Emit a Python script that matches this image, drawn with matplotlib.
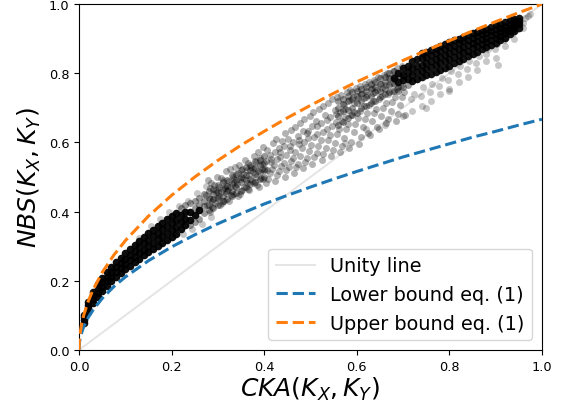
import matplotlib
matplotlib.use('Agg')
import matplotlib.pyplot as plt

# bounds and unity line
curve_x = [0, 0.001, 0.002, 0.005, 0.01, 0.02, 0.03, 0.05, 0.075, 0.1, 0.15, 0.2, 0.25, 0.3, 0.35, 0.4, 0.45,
           0.5, 0.55, 0.6, 0.65, 0.7, 0.75, 0.8, 0.85, 0.9, 0.95, 1.0]
upper_y = [0, 0.032, 0.045, 0.07, 0.1, 0.141, 0.173, 0.224, 0.274, 0.316, 0.387, 0.447, 0.5, 0.548, 0.592, 0.632,
           0.671, 0.707, 0.742, 0.775, 0.806, 0.837, 0.866, 0.894, 0.922, 0.949, 0.975, 1.0]
lower_y = [0, 0.021, 0.03, 0.047, 0.067, 0.094, 0.115, 0.149, 0.183, 0.211, 0.258, 0.298, 0.333, 0.365, 0.394,
           0.422, 0.447, 0.471, 0.494, 0.516, 0.537, 0.558, 0.577, 0.596, 0.615, 0.632, 0.65, 0.667]
unity_x = [0, 1]
unity_y = [0, 1]

# black ribbon near the origin, thinning out at its right end
low_x = [0.01, 0.01, 0.01, 0.01, 0.02, 0.02, 0.02, 0.02, 0.03, 0.03, 0.03, 0.03, 0.04, 0.04, 0.04, 0.04,
         0.05, 0.05, 0.05, 0.05, 0.06, 0.06, 0.06, 0.06, 0.07, 0.07, 0.07, 0.07, 0.08, 0.08, 0.08, 0.08,
         0.09, 0.09, 0.09, 0.09, 0.1, 0.1, 0.1, 0.1, 0.11, 0.11, 0.11, 0.11, 0.12, 0.12, 0.12, 0.12,
         0.13, 0.13, 0.13, 0.13, 0.14, 0.14, 0.14, 0.14, 0.15, 0.15, 0.15, 0.15, 0.16, 0.16, 0.16, 0.16,
         0.17, 0.17, 0.17, 0.17, 0.18, 0.18, 0.18, 0.18, 0.19, 0.19, 0.19, 0.19, 0.2, 0.2, 0.2, 0.2,
         0.21, 0.21, 0.21, 0.21, 0.22, 0.22, 0.22, 0.23, 0.23, 0.23, 0.24, 0.24, 0.25, 0.26]
low_y = [0.078, 0.086, 0.094, 0.1, 0.11, 0.12, 0.13, 0.138, 0.135, 0.147, 0.158, 0.168, 0.153, 0.165, 0.178, 0.19,
         0.17, 0.183, 0.196, 0.208, 0.185, 0.198, 0.212, 0.224, 0.198, 0.212, 0.226, 0.24, 0.21, 0.225, 0.24, 0.254,
         0.222, 0.237, 0.252, 0.267, 0.233, 0.248, 0.264, 0.28, 0.243, 0.26, 0.276, 0.292, 0.254, 0.27, 0.287, 0.304,
         0.264, 0.28, 0.298, 0.316, 0.274, 0.29, 0.308, 0.326, 0.283, 0.3, 0.318, 0.337, 0.292, 0.31, 0.329, 0.348,
         0.3, 0.32, 0.339, 0.358, 0.31, 0.33, 0.349, 0.368, 0.318, 0.339, 0.358, 0.378, 0.327, 0.348, 0.368, 0.388,
         0.336, 0.356, 0.377, 0.397, 0.35, 0.37, 0.39, 0.36, 0.378, 0.398, 0.375, 0.4, 0.39, 0.405]

# black band near the top right, thin at its left end
top_x = [0.68, 0.69, 0.69, 0.7, 0.7, 0.7, 0.71, 0.71, 0.71, 0.72, 0.72, 0.72, 0.72, 0.73, 0.73, 0.73, 0.73,
         0.74, 0.74, 0.74, 0.74, 0.74, 0.75, 0.75, 0.75, 0.75, 0.75, 0.76, 0.76, 0.76, 0.76, 0.76,
         0.77, 0.77, 0.77, 0.77, 0.77, 0.78, 0.78, 0.78, 0.78, 0.78, 0.79, 0.79, 0.79, 0.79, 0.79,
         0.8, 0.8, 0.8, 0.8, 0.8, 0.81, 0.81, 0.81, 0.81, 0.81, 0.82, 0.82, 0.82, 0.82, 0.82,
         0.83, 0.83, 0.83, 0.83, 0.83, 0.84, 0.84, 0.84, 0.84, 0.84, 0.85, 0.85, 0.85, 0.85, 0.85,
         0.86, 0.86, 0.86, 0.86, 0.86, 0.87, 0.87, 0.87, 0.87, 0.87, 0.88, 0.88, 0.88, 0.88, 0.88,
         0.89, 0.89, 0.89, 0.89, 0.89, 0.9, 0.9, 0.9, 0.9, 0.9, 0.91, 0.91, 0.91, 0.91, 0.91,
         0.92, 0.92, 0.92, 0.92, 0.92, 0.93, 0.93, 0.93, 0.93, 0.93, 0.94, 0.94, 0.94, 0.94, 0.94,
         0.95, 0.95, 0.95, 0.95]
top_y = [0.785, 0.775, 0.8, 0.78, 0.795, 0.815, 0.782, 0.803, 0.82, 0.778, 0.795, 0.815, 0.835, 0.782, 0.803, 0.822, 0.84,
         0.79, 0.807, 0.825, 0.843, 0.857, 0.795, 0.813, 0.83, 0.848, 0.862, 0.798, 0.817, 0.835, 0.852, 0.868,
         0.803, 0.823, 0.841, 0.858, 0.873, 0.81, 0.83, 0.848, 0.864, 0.879, 0.815, 0.836, 0.853, 0.87, 0.885,
         0.822, 0.841, 0.858, 0.875, 0.89, 0.83, 0.847, 0.865, 0.88, 0.895, 0.835, 0.854, 0.87, 0.886, 0.9,
         0.842, 0.86, 0.876, 0.892, 0.905, 0.85, 0.865, 0.882, 0.897, 0.91, 0.855, 0.872, 0.887, 0.902, 0.915,
         0.862, 0.878, 0.893, 0.907, 0.92, 0.87, 0.885, 0.898, 0.912, 0.924, 0.876, 0.89, 0.903, 0.917, 0.929,
         0.882, 0.895, 0.909, 0.922, 0.933, 0.888, 0.902, 0.914, 0.927, 0.938, 0.895, 0.908, 0.92, 0.932, 0.943,
         0.903, 0.915, 0.926, 0.937, 0.948, 0.912, 0.922, 0.932, 0.943, 0.953, 0.922, 0.932, 0.941, 0.95, 0.958,
         0.932, 0.941, 0.95, 0.96]

# darker grey points where the dense parts fade into the middle of the band
shade_x = [0.22, 0.23, 0.24, 0.24, 0.25, 0.25, 0.25, 0.26, 0.26, 0.26,
           0.27, 0.27, 0.27, 0.27, 0.28, 0.28, 0.28, 0.28, 0.29, 0.29, 0.29, 0.29, 0.3, 0.3, 0.3, 0.3,
           0.31, 0.31, 0.31, 0.31, 0.32, 0.32, 0.32, 0.32, 0.33, 0.33, 0.33, 0.33, 0.34, 0.34, 0.34, 0.34,
           0.35, 0.35, 0.35, 0.35, 0.36, 0.36, 0.36, 0.36, 0.37, 0.37, 0.37, 0.37, 0.38, 0.38, 0.38, 0.38,
           0.39, 0.39, 0.39, 0.39, 0.4, 0.4, 0.4, 0.4,
           0.56, 0.56, 0.56, 0.56, 0.57, 0.57, 0.57, 0.57, 0.58, 0.58, 0.58, 0.58, 0.59, 0.59, 0.59, 0.59,
           0.6, 0.6, 0.6, 0.6, 0.61, 0.61, 0.61, 0.61, 0.62, 0.62, 0.62, 0.62, 0.63, 0.63, 0.63, 0.63,
           0.64, 0.64, 0.64, 0.64, 0.65, 0.65, 0.65, 0.65, 0.66, 0.66, 0.66, 0.66, 0.67, 0.67, 0.67, 0.67,
           0.68, 0.68, 0.68, 0.68, 0.69, 0.69, 0.7, 0.71]
shade_y = [0.41, 0.418, 0.36, 0.425, 0.37, 0.41, 0.43, 0.38, 0.42, 0.44,
           0.395, 0.415, 0.43, 0.45, 0.405, 0.42, 0.44, 0.46, 0.41, 0.435, 0.45, 0.465, 0.42, 0.44, 0.458, 0.478,
           0.43, 0.445, 0.465, 0.485, 0.435, 0.46, 0.475, 0.49, 0.445, 0.46, 0.48, 0.505, 0.455, 0.47, 0.49, 0.51,
           0.46, 0.485, 0.5, 0.52, 0.47, 0.49, 0.505, 0.53, 0.48, 0.495, 0.52, 0.535, 0.485, 0.51, 0.525, 0.545,
           0.495, 0.515, 0.535, 0.55, 0.5, 0.52, 0.54, 0.56,
           0.65, 0.675, 0.7, 0.72, 0.66, 0.69, 0.71, 0.725, 0.67, 0.695, 0.72, 0.735, 0.68, 0.7, 0.725, 0.745,
           0.685, 0.715, 0.735, 0.75, 0.7, 0.72, 0.74, 0.755, 0.705, 0.73, 0.75, 0.76, 0.715, 0.735, 0.755, 0.77,
           0.72, 0.745, 0.76, 0.775, 0.73, 0.75, 0.77, 0.785, 0.74, 0.755, 0.775, 0.79, 0.745, 0.765, 0.785, 0.8,
           0.75, 0.77, 0.79, 0.805, 0.75, 0.76, 0.76, 0.765]

# loose grey points along the middle of the band, six per column
mid_x = [0.284, 0.277, 0.282, 0.275, 0.283, 0.278, 0.288, 0.293, 0.287, 0.295, 0.292, 0.286,
         0.304, 0.297, 0.302, 0.295, 0.303, 0.298, 0.308, 0.313, 0.307, 0.315, 0.312, 0.306,
         0.324, 0.317, 0.322, 0.315, 0.323, 0.318, 0.328, 0.333, 0.327, 0.335, 0.332, 0.326,
         0.344, 0.337, 0.342, 0.335, 0.343, 0.338, 0.348, 0.353, 0.347, 0.355, 0.352, 0.346,
         0.364, 0.357, 0.362, 0.355, 0.363, 0.358, 0.368, 0.373, 0.367, 0.375, 0.372, 0.366,
         0.384, 0.377, 0.382, 0.375, 0.383, 0.378, 0.388, 0.393, 0.387, 0.395, 0.392, 0.386,
         0.404, 0.397, 0.402, 0.395, 0.403, 0.398, 0.408, 0.413, 0.407, 0.415, 0.412, 0.406,
         0.424, 0.417, 0.422, 0.415, 0.423, 0.418, 0.428, 0.433, 0.427, 0.435, 0.432, 0.426,
         0.444, 0.437, 0.442, 0.435, 0.443, 0.438, 0.448, 0.453, 0.447, 0.455, 0.452, 0.446,
         0.464, 0.457, 0.462, 0.455, 0.463, 0.458, 0.468, 0.473, 0.467, 0.475, 0.472, 0.466,
         0.484, 0.477, 0.482, 0.475, 0.483, 0.478, 0.488, 0.493, 0.487, 0.495, 0.492, 0.486,
         0.504, 0.497, 0.502, 0.495, 0.503, 0.498, 0.508, 0.513, 0.507, 0.515, 0.512, 0.506,
         0.524, 0.517, 0.522, 0.515, 0.523, 0.518, 0.528, 0.533, 0.527, 0.535, 0.532, 0.526,
         0.544, 0.537, 0.542, 0.535, 0.543, 0.538, 0.548, 0.553, 0.547, 0.555, 0.552, 0.546,
         0.564, 0.557, 0.562, 0.555, 0.563, 0.558, 0.568, 0.573, 0.567, 0.575, 0.572, 0.566,
         0.584, 0.577, 0.582, 0.575, 0.583, 0.578, 0.588, 0.593, 0.587, 0.595, 0.592, 0.586,
         0.604, 0.597, 0.602, 0.595, 0.603, 0.598, 0.608, 0.613, 0.607, 0.615, 0.612, 0.606,
         0.624, 0.617, 0.622, 0.615, 0.623, 0.618, 0.628, 0.633, 0.627, 0.635, 0.632, 0.626,
         0.644, 0.637, 0.642, 0.635, 0.643, 0.638, 0.648, 0.653, 0.647, 0.655, 0.652, 0.646,
         0.664, 0.657, 0.662, 0.655, 0.663, 0.658, 0.668, 0.673, 0.667, 0.675, 0.672, 0.666,
         0.684, 0.677, 0.682, 0.675, 0.683, 0.678, 0.688, 0.693, 0.687, 0.695, 0.692, 0.686,
         0.704, 0.697, 0.702, 0.695, 0.703, 0.698]
mid_y = [0.4, 0.418, 0.437, 0.449, 0.468, 0.49, 0.412, 0.425, 0.43, 0.456, 0.477, 0.482,
         0.418, 0.44, 0.446, 0.462, 0.471, 0.5, 0.424, 0.431, 0.458, 0.473, 0.492, 0.497,
         0.43, 0.455, 0.461, 0.468, 0.488, 0.516, 0.447, 0.452, 0.471, 0.494, 0.501, 0.522,
         0.446, 0.474, 0.479, 0.486, 0.512, 0.53, 0.452, 0.461, 0.493, 0.498, 0.524, 0.536,
         0.466, 0.471, 0.482, 0.51, 0.519, 0.548, 0.462, 0.489, 0.507, 0.515, 0.53, 0.541,
         0.478, 0.484, 0.5, 0.527, 0.544, 0.56, 0.47, 0.496, 0.516, 0.522, 0.555, 0.572,
         0.482, 0.493, 0.524, 0.538, 0.547, 0.586, 0.495, 0.512, 0.519, 0.552, 0.563, 0.578,
         0.489, 0.522, 0.535, 0.544, 0.571, 0.598, 0.505, 0.517, 0.551, 0.559, 0.583, 0.61,
         0.5, 0.533, 0.541, 0.572, 0.591, 0.604, 0.519, 0.528, 0.563, 0.578, 0.61, 0.628,
         0.512, 0.547, 0.556, 0.589, 0.602, 0.636, 0.53, 0.538, 0.572, 0.607, 0.618, 0.644,
         0.526, 0.561, 0.583, 0.596, 0.632, 0.657, 0.543, 0.554, 0.601, 0.614, 0.628, 0.668,
         0.538, 0.574, 0.592, 0.633, 0.648, 0.676, 0.557, 0.568, 0.615, 0.624, 0.662, 0.688,
         0.549, 0.591, 0.607, 0.648, 0.657, 0.697, 0.566, 0.583, 0.631, 0.639, 0.679, 0.706,
         0.561, 0.606, 0.622, 0.665, 0.672, 0.713, 0.578, 0.598, 0.646, 0.658, 0.693, 0.724,
         0.572, 0.623, 0.638, 0.681, 0.689, 0.731, 0.589, 0.614, 0.662, 0.674, 0.708, 0.738,
         0.583, 0.639, 0.653, 0.696, 0.722, 0.746, 0.602, 0.63, 0.678, 0.689, 0.731, 0.752,
         0.596, 0.652, 0.671, 0.713, 0.727, 0.757, 0.616, 0.645, 0.692, 0.706, 0.742, 0.763,
         0.627, 0.668, 0.684, 0.727, 0.738, 0.769, 0.622, 0.661, 0.708, 0.72, 0.756, 0.776,
         0.644, 0.684, 0.697, 0.742, 0.752, 0.781, 0.638, 0.676, 0.724, 0.734, 0.768, 0.788,
         0.657, 0.699, 0.715, 0.757, 0.766, 0.794, 0.668, 0.692, 0.74, 0.749, 0.782, 0.8,
         0.662, 0.716, 0.73, 0.772, 0.779, 0.807, 0.683, 0.708, 0.754, 0.764, 0.796, 0.814,
         0.678, 0.731, 0.747, 0.786, 0.793, 0.82]

# faint points on the rim of the dense parts and the few outliers
edge_x = [0.72, 0.718, 0.723, 0.74, 0.738, 0.743, 0.76, 0.758, 0.763, 0.78, 0.778, 0.783, 0.8, 0.798, 0.803,
          0.82, 0.818, 0.823, 0.84, 0.838, 0.843, 0.86, 0.858, 0.863, 0.88, 0.878, 0.883, 0.9, 0.898, 0.903,
          0.92, 0.918, 0.923, 0.94, 0.938, 0.943, 0.96, 0.958, 0.963, 0.905, 0.97, 0.975, 0.13, 0.155, 0.175,
          0.195, 0.215, 0.235, 0.255, 0.275, 0.225, 0.245, 0.265, 0.285, 0.575, 0.62, 0.66, 0.7, 0.75, 0.8]
edge_y = [0.69, 0.725, 0.74, 0.705, 0.735, 0.76, 0.72, 0.745, 0.77, 0.74, 0.762, 0.785, 0.75, 0.78, 0.805,
          0.775, 0.797, 0.82, 0.79, 0.812, 0.835, 0.81, 0.83, 0.85, 0.835, 0.855, 0.87, 0.845, 0.87, 0.885,
          0.88, 0.895, 0.905, 0.9, 0.915, 0.925, 0.93, 0.945, 0.96, 0.825, 0.965, 0.97, 0.325, 0.358, 0.378,
          0.4, 0.415, 0.43, 0.455, 0.475, 0.335, 0.35, 0.365, 0.385, 0.598, 0.64, 0.65, 0.675, 0.7, 0.755]

plt.figure(figsize=(5.66, 4.06), dpi=100)
plt.subplots_adjust(left=79 / 566, right=542 / 566, top=1 - 5 / 406, bottom=1 - 351 / 406)

plt.plot(unity_x, unity_y, color='lightgray', alpha=0.6, linewidth=1.4, label='Unity line', zorder=1)

# the dense parts are drawn with fewer, darker points
plt.scatter(mid_x, mid_y, color='black', alpha=0.3, s=25, linewidths=0, zorder=2)
plt.scatter(edge_x, edge_y, color='black', alpha=0.22, s=25, linewidths=0, zorder=2)
plt.scatter(shade_x, shade_y, color='black', alpha=0.4, s=25, linewidths=0, zorder=2)
plt.scatter(low_x, low_y, color='black', alpha=0.95, s=30, linewidths=0, zorder=2)
plt.scatter(top_x, top_y, color='black', alpha=0.92, s=30, linewidths=0, zorder=2)

plt.plot(curve_x, lower_y, color='tab:blue', linestyle='--', linewidth=2.2, label='Lower bound eq. (1)', zorder=3)
plt.plot(curve_x, upper_y, color='tab:orange', linestyle='--', linewidth=2.2, label='Upper bound eq. (1)', zorder=3)

plt.xlim(0, 1)
plt.ylim(0, 1)
plt.xticks(fontsize=9.3)
plt.yticks(fontsize=9.3)
plt.xlabel('$CKA(K_X, K_Y)$', fontsize=18, labelpad=1.5)
plt.ylabel('$NBS(K_X, K_Y)$', fontsize=18, labelpad=4)
plt.legend(loc='lower right', fontsize=13.9)
plt.savefig('out.png', dpi=100)
